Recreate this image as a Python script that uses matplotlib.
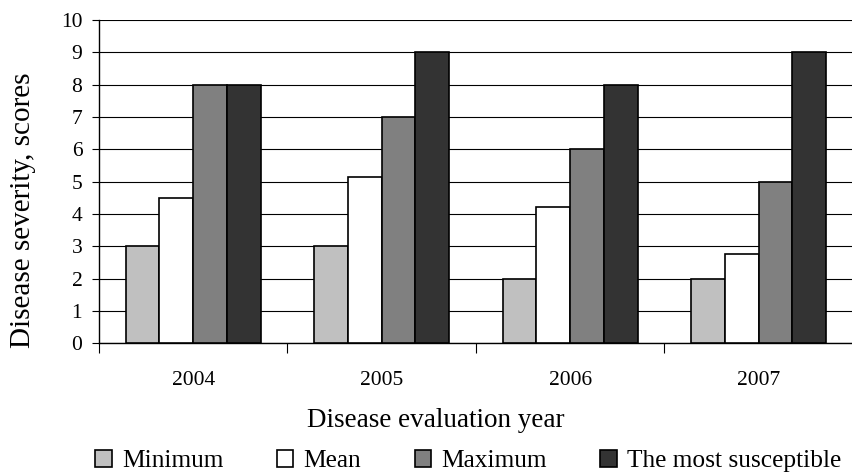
import matplotlib.pyplot as plt
import numpy as np

plt.rcParams['font.family'] = ['Liberation Serif', 'DejaVu Serif']

years = ['2004', '2005', '2006', '2007']
minimum = [3, 3, 2, 2]
mean = [4.5, 5.15, 4.2, 2.75]
maximum = [8, 7, 6, 5]
most_susceptible = [8, 9, 8, 9]

series = [
    ('Minimum', minimum, '#c0c0c0'),
    ('Mean', mean, '#ffffff'),
    ('Maximum', maximum, '#808080'),
    ('The most susceptible', most_susceptible, '#333333'),
]

fig = plt.figure(figsize=(8.53, 4.74), dpi=100)
ax = fig.add_axes([0.116, 0.2757, 0.884, 0.6823])

x = np.arange(len(years))
w = 0.179
for i, (name, vals, col) in enumerate(series):
    ax.bar(x + (i - 1.5) * w, vals, w, color=col, edgecolor='black',
           linewidth=1.2, label=name, zorder=3)

ax.set_ylim(0, 10)
ax.set_xlim(-0.5, 3.47)
ax.set_yticks(range(0, 11))
ax.yaxis.grid(True, color='black', linewidth=0.8, zorder=0)

# category boundaries as ticks, labels in the middle
ax.set_xticks(np.arange(-0.5, 4, 1.0))
ax.set_xticklabels([])
ax.set_xticks(x, minor=True)
ax.set_xticklabels(years, minor=True)
ax.tick_params(axis='x', which='major', direction='out', length=7, width=0.8)
ax.tick_params(axis='x', which='minor', length=0, pad=20, labelsize=15.5)
ax.tick_params(axis='y', direction='out', length=5, width=0.8, labelsize=15.5, pad=7)

for s in ['top', 'right']:
    ax.spines[s].set_visible(False)
ax.spines['left'].set_linewidth(1.0)
ax.spines['bottom'].set_linewidth(1.0)

fig.text(307 / 853, 0.112, 'Disease evaluation year', fontsize=19.5,
         ha='left', va='center')
fig.text(23 / 853, 0.557, 'Disease severity, scores', fontsize=21,
         rotation=90, ha='center', va='center')

fig.legend(loc='center', bbox_to_anchor=(0.549, 0.027), ncol=4, frameon=False,
           fontsize=18.3, handlelength=0.65, handleheight=0.65, handletextpad=0.4,
           columnspacing=2.1)

plt.savefig('out.png', dpi=100)
